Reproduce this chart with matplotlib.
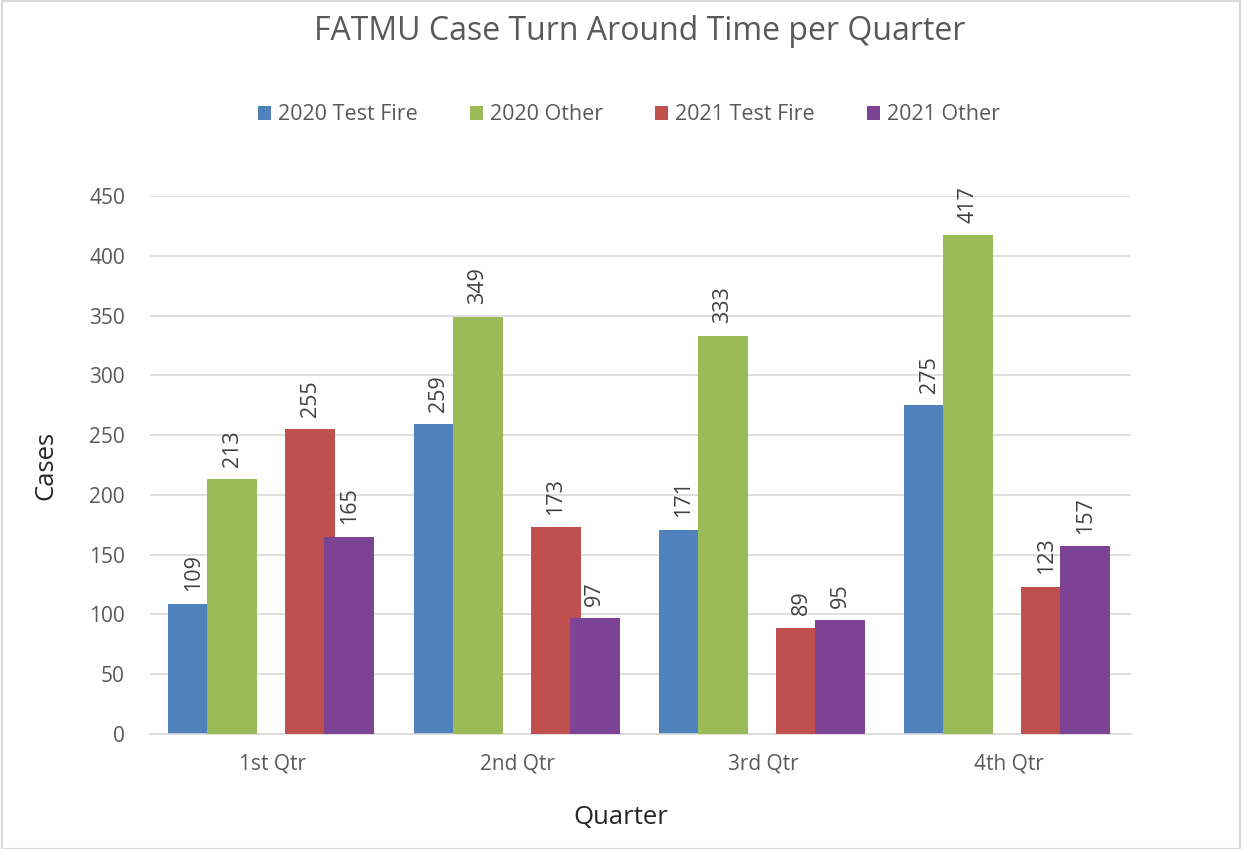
import numpy as np
import matplotlib
matplotlib.use("Agg")
import matplotlib.pyplot as plt
from matplotlib.patches import Rectangle

# data
quarters = ["1st Qtr", "2nd Qtr", "3rd Qtr", "4th Qtr"]
series_names = ["2020 Test Fire", "2020 Other", "2021 Test Fire", "2021 Other"]
tf_2020 = [109, 259, 171, 275]
other_2020 = [213, 349, 333, 417]
tf_2021 = [255, 173, 89, 123]
other_2021 = [165, 97, 95, 157]

colors = ["#4F81BD", "#9BBB59", "#C0504D", "#7D4495"]
# slot index in group of 5 (slot 2 is an empty spacer series)
slots = [0, 1, 3, 4]

plt.rcParams['font.family'] = ['Open Sans', 'DejaVu Sans']

fig = plt.figure(figsize=(12.44, 8.49), dpi=100)
ax = fig.add_axes([150 / 1244, 1 - 734 / 849, (1131 - 150) / 1244, (734 - 196) / 849])

x = np.arange(len(quarters))
step = 0.159
width = 0.204
all_vals = [tf_2020, other_2020, tf_2021, other_2021]
for i, (name, vals) in enumerate(zip(series_names, all_vals)):
    pos = x + (slots[i] - 2) * step - 0.005
    bars = ax.bar(pos, vals, width=width, color=colors[i], label=name, zorder=2 + i)
    for b, v in zip(bars, vals):
        ax.annotate(str(v), (b.get_x() + b.get_width() / 2, v),
                    xytext=(0, 9), textcoords="offset points",
                    rotation=90, ha="center", va="bottom",
                    fontsize=15.5, color="#404040", zorder=10)

ax.set_xlim(-0.5, 3.5)
ax.set_ylim(0, 450)
ax.set_yticks(np.arange(0, 451, 50))
ax.set_xticks(x)
ax.set_xticklabels(quarters)
ax.yaxis.grid(True, color="#D9D9D9", linewidth=1.2, zorder=0)
ax.set_axisbelow(True)
for s in ["top", "right", "left"]:
    ax.spines[s].set_visible(False)
ax.spines["bottom"].set_color("#D9D9D9")
ax.spines["bottom"].set_linewidth(1.2)
ax.tick_params(axis="both", length=0, colors="#595959", labelsize=15)
ax.tick_params(axis="y", pad=18)
ax.tick_params(axis="x", pad=14)

ax.set_ylabel("Cases", fontsize=18.5, color="#262626", labelpad=22)
ax.set_xlabel("Quarter", fontsize=18.5, color="#262626", labelpad=22)
ax.xaxis.set_label_coords((621 - 150) / (1131 - 150), -0.132)

fig.text(640 / 1244, 1 - 31 / 849, "FATMU Case Turn Around Time per Quarter",
         ha="center", va="center", fontsize=23, color="#595959")

fig.legend(loc="center", bbox_to_anchor=(629 / 1244, 1 - 115 / 849), ncol=4,
           frameon=False, fontsize=15.5, handlelength=0.6, handleheight=0.6,
           handletextpad=0.35, columnspacing=2.4, labelcolor="#595959")

fig.patches.append(Rectangle((2 / 1244, 0), 1 - 6 / 1244, 1 - 1 / 849,
                             transform=fig.transFigure, fill=False,
                             edgecolor="#D9D9D9", linewidth=1.5))

fig.savefig("out.png", dpi=100, facecolor="white")
